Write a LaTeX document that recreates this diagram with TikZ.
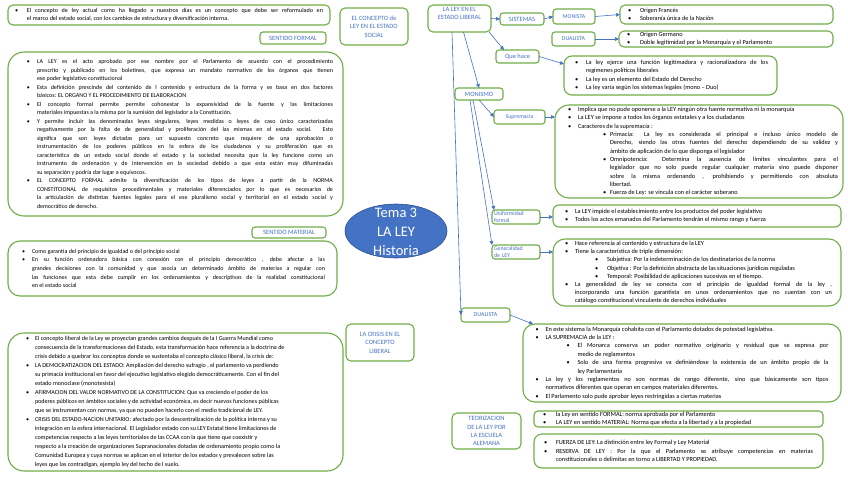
\documentclass[tikz,border=0pt]{standalone}
\usepackage{fontspec}
\setmainfont{Carlito}
\usepackage{enumitem}
\usetikzlibrary{shapes.geometric,arrows.meta,calc}
\definecolor{gr}{HTML}{70AD47}
\definecolor{bl}{HTML}{4472C4}
\definecolor{bld}{HTML}{2F528F}
\hyphenpenalty=10000
\exhyphenpenalty=10000
\tolerance=10000
\newenvironment{blist}[2]{\begin{itemize}[leftmargin=#2pt,labelindent=#1pt,labelwidth=3pt,labelsep=*,align=left,label=\textbullet,topsep=0pt,itemsep=0pt,parsep=0pt,partopsep=0pt]}{\end{itemize}}
\newcommand{\bxt}[2]{\begin{minipage}{#1pt}#2\end{minipage}}
\newcommand{\szL}{\fontsize{6}{8.5}\selectfont}
\newcommand{\szR}{\fontsize{6.3}{8.4}\selectfont}
\tikzset{
  dbox/.style={draw=gr, line width=1.1pt, anchor=north west, inner sep=0pt, outer sep=0pt, text=black},
  lbox/.style={draw=gr, line width=1.1pt, rounded corners=3pt, anchor=north west, inner sep=0pt, outer sep=0pt, text=bl, align=center, font=\fontsize{6.5}{8.5}\selectfont},
  conn/.style={draw=bl, line width=0.6pt, -{Triangle[length=4pt,width=3.6pt]}},
}
\begin{document}
\begin{tikzpicture}[x=1pt,y=-1pt]
\fill[white] (0,0) rectangle (848,477);
\useasboundingbox (0,0) rectangle (848,477);

% ---------------- left column ----------------
\node[dbox, rounded corners=5pt, minimum width=322pt, minimum height=20pt, font=\fontsize{6.1}{8}\selectfont] (intro) at (8,5) {\bxt{308}{\begin{blist}{0}{12}
\item El concepto de ley actual como ha llegado a nuestros días es un concepto que debe ser reformulado en\linebreak el marco del estado social, con los cambios de estructura y diversificación interna.
\end{blist}}};

\node[lbox, minimum width=66pt, minimum height=12pt] (sf) at (260,32) {SENTIDO FORMAL};

\node[dbox, rounded corners=16pt, minimum width=335pt, minimum height=164pt, font=\szL] (formal) at (8,52) {\bxt{315}{\begin{blist}{9}{19}
\item LA LEY es el acto aprobado por ese nombre por el Parlamento de acuerdo con el procedimiento\linebreak prescrito y publicado en los boletines, que expresa un mandato normativo de los órganos que tienen\linebreak ese poder legislativo constitucional
\item Esta definición prescinde del contenido de l contenido y estructura de la forma y se basa en dos factores\linebreak básicos: EL ORGANO Y EL PROCEDIMIENTO DE ELABORACION
\item El concepto formal permite permite cohonestar la expansividad de la fuente y las limitaciones\linebreak materiales impuestas a la misma por la sumisión del legislador a la Constitución.
\item Y permite incluir las denominadas leyes singulares, leyes medidas o leyes de caso único caracterizadas\linebreak negativamente por la falta de de generalidad y proliferación del las mismas en el estado social. Esto\linebreak significa que son leyes dictadas para un supuesto concreto que requiere de una aprobación o\linebreak instrumentación de los poderes públicos en la esfera de los ciudadanos y su proliferación que es\linebreak característica de un estado social donde el estado y la sociedad necesita que la ley funcione como un\linebreak instrumento de ordenación y de intervención en la sociedad debido a que esta están muy difuminadas\linebreak su separación y podría dar lugar a equívocos.
\item EL CONCEPTO FORMAL admite la diversificación de los tipos de leyes a partir de la NORMA\linebreak CONSTITCIONAL de requisitos procedimentales y materiales diferenciados por lo que es necesarios de\linebreak la articulación de distintas fuentes legales para el ese pluralismo social y territorial en el estado social y\linebreak democrático de derecho.
\end{blist}}};

\node[lbox, minimum width=74pt, minimum height=11pt] (sm) at (252,227) {SENTIDO MATERIAL};

\node[dbox, rounded corners=12pt, minimum width=329pt, minimum height=55pt, font=\fontsize{6}{8.7}\selectfont] (material) at (8,241) {\bxt{305}{\begin{blist}{2}{12}
\item Como garantía del principio de igualdad o del principio social
\item En su función ordenadora básica con conexión con el principio democrático , debe afectar a las\linebreak grandes decisiones con la comunidad y que asocia un determinado ámbito de materias a regular con\linebreak las funciones que esta debe cumplir en los ordenamientos y descriptivas de la realidad constitucional\linebreak en el estado social
\end{blist}}};

\node[dbox, rounded corners=16pt, minimum width=335pt, minimum height=138pt, font=\fontsize{6.1}{9}\selectfont] (crisis) at (8,333) {\bxt{309}{\begin{blist}{5}{14}
\item El concepto liberal de la Ley se proyectan grandes cambios después de la I Guerra Mundial como\newline consecuencia de la transformaciones del Estado, esta transformación hace referencia a la doctrina de\newline crisis debido a quebrar los conceptos donde se sustentaba el concepto clásico liberal, la crisis de:
\item LA DEMOCRATIZACION DEL ESTADO: Ampliación del derecho sufragio , el parlamento va perdiendo\newline su primacía institucional en favor del ejecutivo legislativo elegido democráticamente. Con el fin del\newline estado monoclase (monotesista)
\item AFIRMACION DEL VALOR NORMATIVO DE LA CONSTITUCION: Que va creciendo el poder de los\newline poderes públicos en ámbitos sociales y de actividad económica, es decir nuevos funciones públicas\newline que se instrumentan con normas, ya que no pueden hacerlo con el medio tradicional de LEY.
\item CRISIS DEL ESTADO-NACION UNITARIO: afectado por la descentralización de la política interna y su\newline integración en la esfera internacional. El Legislador estado con su LEY Estatal tiene limitaciones de\newline competencias respecto a las leyes territoriales de las CCAA con la que tiene que coexistir y\newline respecto a la creación de organizaciones Supranacionales dotadas de ordenamiento propio como la\newline Comunidad Europea y cuya normas se aplican en el interior de los estados y prevalecen sobre las\newline leyes que las contradigan, ejemplo ley del techo de l suelo.
\end{blist}}};

% ---------------- centre ----------------
\node[lbox, rounded corners=5pt, minimum width=68pt, minimum height=37pt] (concepto) at (340,8) {EL CONCEPTO de\\LEY EN EL ESTADO\\SOCIAL};
\node[ellipse, fill=bl, draw=bld, line width=0.6pt, minimum width=102pt, minimum height=54pt, inner sep=0pt] (tema) at (396,231) {};
\node[text=white, font=\fontsize{14.5}{19}\selectfont, align=center, inner sep=0pt] (tematxt) at (396,232) {Tema 3\\LA LEY\\Historia};
\node[lbox, rounded corners=5pt, minimum width=68pt, minimum height=37pt] (crisislbl) at (346,324) {LA CRISIS EN EL\\CONCEPTO\\LIBERAL};
\node[lbox, rounded corners=5pt, minimum width=69pt, minimum height=36pt, font=\fontsize{6.5}{8.2}\selectfont] (teolbl) at (452,413) {TEORIZACION\\DE LA LEY POR\\LA ESCUELA\\ALEMANA};

% ---------------- tree ----------------
\node[lbox, rounded corners=5pt, minimum width=63pt, minimum height=27pt] (liberal) at (428,5) {};
\node[text=bl, font=\fontsize{6.5}{8.5}\selectfont, align=center, anchor=north, inner sep=0pt] (liberaltxt) at (459.5,7) {LA LEY EN EL\\ESTADO LIBERAL};
\node[lbox, minimum width=44pt, minimum height=12pt] (sistemas) at (500,13) {SISTEMAS};
\node[lbox, minimum width=42pt, minimum height=15pt, font=\fontsize{5.9}{6}\selectfont] (monista) at (553,9) {MONISTA};
\node[lbox, minimum width=43pt, minimum height=14pt, font=\fontsize{5.9}{6}\selectfont] (dualista) at (552,32) {DUALISTA};
\node[lbox, minimum width=43pt, minimum height=13pt] (quehace) at (496,50) {Que hace};
\node[lbox, minimum width=48pt, minimum height=12pt] (monismo) at (455,88) {MONISMO};
\node[lbox, minimum width=51pt, minimum height=14pt, font=\fontsize{5.8}{6}\selectfont] (supremacia) at (494,110) {Supremacia};
\node[lbox, minimum width=48pt, minimum height=14pt, font=\fontsize{5.8}{7}\selectfont, align=left, text width=44pt] (unif) at (492,210) {Uniformidad\\formal};
\node[lbox, minimum width=48pt, minimum height=14pt, font=\fontsize{5.8}{7}\selectfont, align=left, text width=44pt] (gen) at (492,245) {Generalidad\\de LEY};
\node[lbox, minimum width=49pt, minimum height=14pt, font=\fontsize{6}{6}\selectfont] (dualista2) at (461,308) {DUALISTA};

\node[dbox, rounded corners=5pt, minimum width=213pt, minimum height=19pt, font=\szR] (monbox) at (620,5) {\bxt{203}{\begin{blist}{3}{15}
\item Origen Francés
\item Soberanía única de la Nación
\end{blist}}};

\node[dbox, rounded corners=5pt, minimum width=214pt, minimum height=16pt, font=\fontsize{6.3}{7.8}\selectfont] (dualbox) at (619,31) {\bxt{204}{\begin{blist}{3}{16}
\item Origen Germano
\item Doble legitimidad por la Monarquía y el Parlamento
\end{blist}}};

\node[dbox, rounded corners=8pt, minimum width=213pt, minimum height=39pt, font=\szR] (quebox) at (564,56) {\bxt{195}{\begin{blist}{2}{13}
\item La ley ejerce una función legitimadora y racionalizadora de los\linebreak regímenes políticos liberales
\item La ley es un elemento del Estado del Derecho
\item La ley varía según los sistemas legales (mono – Duo)
\end{blist}}};

\node[dbox, rounded corners=14pt, minimum width=288pt, minimum height=93pt, font=\fontsize{6.3}{8.3}\selectfont] (supbox) at (555,105) {\bxt{278}{\begin{blist}{8}{18}
\item Implica que no pude oponerse a la LEY ningún otra fuente normativa ni la monarquía
\item La LEY se impone a todos los órganos estatales y a los ciudadanos
\item Caracteres de la supremacía :
\begin{blist}{25}{32}
\item Primacía: La ley es considerada el principal e incluso único modelo de\linebreak Derecho, siendo las otras fuentes del derecho dependiendo de su validez y\linebreak ámbito de aplicación de lo que disponga el legislador
\item Omnipotencia: Determina la ausencia de límites vinculantes para el\linebreak legislador que no solo puede regular cualquier materia sino puede disponer\linebreak sobre la misma ordenando , prohibiendo y permitiendo con absoluta\linebreak libertad.
\item Fuerza de Ley: se vincula con el carácter soberano
\end{blist}
\end{blist}}};

\node[dbox, rounded corners=6pt, minimum width=288pt, minimum height=22pt, font=\szR] (unibox) at (553,205) {\bxt{278}{\begin{blist}{7}{17}
\item La LEY impide el establecimiento entre los productos del poder legislativo
\item Todos los actos emanados del Parlamento tendrán el mismo rango y fuerza
\end{blist}}};

\node[dbox, rounded corners=12pt, minimum width=288pt, minimum height=67pt, font=\fontsize{6.3}{8.2}\selectfont] (genbox) at (553,239) {\bxt{270}{\begin{blist}{3}{13}
\item Hace referencia al contenido y estructura de la LEY
\item Tiene la característica de triple dimensión:
\begin{blist}{20}{32}
\item Subjetiva: Por la indeterminación de los destinatarios de la norma
\item Objetiva : Por la definición abstracta de las situaciones jurídicas reguladas
\item Temporal: Posibilidad de aplicaciones sucesivas en el tiempo.
\end{blist}
\item La generalidad de ley se conecta con el principio de igualdad formal de la ley ,\linebreak incorporando una función garantista en unos ordenamientos que no cuentan con un\linebreak catálogo constitucional vinculante de derechos individuales
\end{blist}}};

\node[dbox, rounded corners=12pt, minimum width=318pt, minimum height=78pt, font=\szR] (dualdet) at (523,324) {\bxt{293}{\begin{blist}{0}{10}
\item En este sistema la Monarquía cohabita con el Parlamento dotados de potestad legislativa.
\item LA SUPREMACIA de la LEY :
\begin{blist}{21}{32}
\item El Monarca conserva un poder normativo originario y residual que se expresa por\linebreak medio de reglamentos
\item Solo de una forma progresiva va definiéndose la existencia de un ámbito propio de la\linebreak ley Parlamentaria
\end{blist}
\item La ley y los reglamentos no son normas de rango diferente, sino que básicamente son tipos\linebreak normativos diferentes que operan en campos materiales diferentes.
\item El Parlamento solo pude aprobar leyes restringidas a ciertas materias
\end{blist}}};

\node[dbox, rounded corners=4pt, minimum width=289pt, minimum height=16pt, font=\fontsize{6.3}{7.8}\selectfont] (teo1) at (534,411) {\bxt{275}{\begin{blist}{2}{15}
\item la Ley en sentido FORMAL: norma aprobada por el Parlamento
\item LA LEY en sentido MATERIAL: Norma que efecta a la libertad y a la propiedad
\end{blist}}};

\node[dbox, rounded corners=8pt, minimum width=289pt, minimum height=34pt, font=\fontsize{6.3}{8.8}\selectfont] (teo2) at (534,434) {\bxt{269}{\begin{blist}{0}{12}
\item FUERZA DE LEY: La distinción entre ley Formal y Ley Material
\item RESERVA DE LEY : Por la que el Parlamento se atribuye competencias en materias\linebreak constitucionales o delimitas en torno a LIBERTAD Y PROPIEDAD.
\end{blist}}};

% ---------------- connectors ----------------
\draw[conn] (liberal.east) -- (sistemas.west);
\draw[conn] (sistemas.east) -- (monista.west);
\draw[conn] (monista.east) -- (monbox.west);
\draw[conn] (dualista.east) -- (dualbox.west);
\draw[conn] ([xshift=-2pt]liberal.south east) -- ([xshift=8pt]quehace.north west);
\draw[conn] (quehace.east) -- ([yshift=11.5pt]quebox.west);
\draw[conn] ([xshift=4pt]liberal.south) -- (monismo.north);
\draw[conn] ([xshift=-7.5pt]liberal.south) -- (dualista2.west);
\draw[conn] (monismo.south) -- (supremacia.west);
\draw[conn] ([xshift=-6pt]monismo.south) -- ([xshift=2pt]unif.north west);
\draw[conn] ([xshift=-9pt]monismo.south) -- (gen.north west);
\draw[conn] (supremacia.east) -- (supremacia.east -| supbox.west);
\draw[conn] (unif.east) -- (unif.east -| unibox.west);
\draw[conn] (gen.east) -- (gen.east -| genbox.west);
\draw[conn] (dualista2.east) -- ([xshift=10pt]dualdet.north west);
\end{tikzpicture}
\end{document}
